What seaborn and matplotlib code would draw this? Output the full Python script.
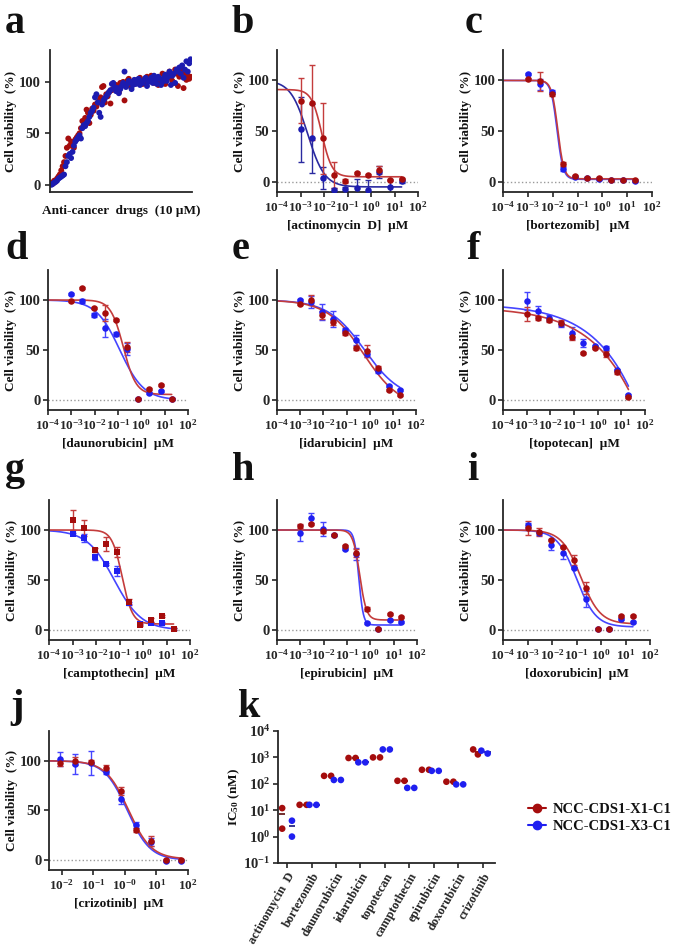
import numpy as np
import pandas as pd
import matplotlib
matplotlib.use("Agg")
import matplotlib.pyplot as plt
from matplotlib.lines import Line2D
from matplotlib.ticker import NullLocator
import seaborn as sns

# =====================================
# DATA
# =====================================

# panel a: single dose screen (10 uM), viability (%) per drug
screen_x1 = [2, 1, 4, 3, 6, 8, 10, 14, 18, 22,
             28, 36, 45, 38, 42, 40, 36, 44, 46, 48,
             50, 55, 62, 58, 65, 73, 70, 60, 68, 74,
             72, 78, 76, 80, 82, 85, 95, 96, 80, 88,
             86, 90, 79, 92, 93, 95, 97, 96, 90, 99,
             98, 100, 82, 97, 101, 103, 96, 99, 100, 98,
             100, 102, 99, 104, 101, 98, 100, 103, 105, 101,
             102, 106, 100, 99, 104, 101, 97, 103, 99, 108,
             100, 98, 103, 106, 110, 104, 101, 99, 112, 108,
             96, 105, 110, 113, 94, 108, 102, 106, 103, 105]
screen_x3 = [0, 1, 2, 3, 4, 6, 7, 8, 9, 10,
             18, 22, 28, 30, 26, 32, 38, 42, 44, 46,
             48, 45, 55, 58, 57, 60, 62, 66, 70, 72,
             75, 85, 88, 80, 70, 66, 78, 82, 84, 86,
             88, 90, 92, 98, 99, 95, 91, 94, 89, 93,
             96, 99, 110, 95, 98, 101, 100, 93, 97, 102,
             98, 101, 103, 97, 100, 99, 102, 104, 96, 100,
             101, 104, 99, 106, 102, 98, 105, 103, 97, 100,
             104, 107, 101, 105, 110, 97, 106, 108, 99, 112,
             110, 114, 108, 116, 104, 112, 120, 110, 118, 122]

# dose response: concentrations (uM)
conc = [0.001, 0.003, 0.009, 0.027, 0.082, 0.247, 0.741, 2.22, 6.67, 20.0]
conc_crizotinib = [0.009, 0.027, 0.082, 0.247, 0.741, 2.22, 6.67, 20.0, 60.0]

# viability (%) mean and SD, X1 = NCC-CDS1-X1-C1, X3 = NCC-CDS1-X3-C1
actinomycin_x1 = [80, 78, 43, 7, 1, 9, 7, 12, 2, 3]
actinomycin_x1_sd = [22, 37, 35, 13, 2, 1, 1, 4, 1, 1]
actinomycin_x3 = [52, 43, 4, -8, -7, -6, -8, 10, -5, 1]
actinomycin_x3_sd = [32, 34, 11, 2, 2, 9, 10, 6, 7, 2]

bortezomib_x1 = [101, 99, 87, 18, 6, 4, 4, 2, 2, 1.5]
bortezomib_x1_sd = [1, 9, 2, 2, 1, 1, 1, 1, 1, 1]
bortezomib_x3 = [106, 96, 89, 13, 5, 4, 3, 2, 2, 1]
bortezomib_x3_sd = [1, 5, 2, 2, 1, 1, 1, 1, 1, 1]

daunorubicin_x1 = [99, 112, 92, 87, 80, 53, 1, 11, 15, 1]
daunorubicin_x1_sd = [1, 1, 1, 8, 1, 5, 1, 1, 1, 1]
daunorubicin_x3 = [106, 99, 85, 72, 66, 51, 1, 7, 9, 1]
daunorubicin_x3_sd = [1, 2, 2, 9, 2, 6, 1, 1, 1, 1]

idarubicin_x1 = [96, 100, 85, 78, 67, 52, 49, 32, 10, 5]
idarubicin_x1_sd = [1, 5, 4, 3, 2, 2, 6, 2, 1, 1]
idarubicin_x3 = [100, 98, 88, 81, 70, 60, 46, 29, 14, 10]
idarubicin_x3_sd = [1, 6, 8, 8, 2, 5, 3, 2, 1, 1]

topotecan_x1 = [86, 82, 80, 77, 63, 47, 52, 46, 28, 3]
topotecan_x1_sd = [7, 2, 2, 3, 3, 1, 1, 3, 2, 1]
topotecan_x3 = [99, 89, 82, 76, 67, 57, 54, 52, 30, 5]
topotecan_x3_sd = [9, 5, 3, 3, 6, 4, 1, 2, 1, 1]

camptothecin_x1 = [110, 102, 80, 86, 78, 28, 5, 10, 14, 1]
camptothecin_x1_sd = [10, 8, 2, 7, 5, 3, 1, 2, 1, 1]
camptothecin_x3 = [96, 92, 73, 66, 59, 27, 6, 7, 7, 1]
camptothecin_x3_sd = [1, 4, 3, 1, 5, 1, 1, 1, 1, 1]

epirubicin_x1 = [104, 106, 99, 95, 84, 77, 21, 1, 16, 13]
epirubicin_x1_sd = [2, 1, 2, 1, 1, 4, 2, 1, 1, 1]
epirubicin_x3 = [97, 112, 101, 95, 81, 76, 7, 1, 10, 8]
epirubicin_x3_sd = [8, 5, 7, 1, 1, 6, 1, 1, 1, 1]

doxorubicin_x1 = [102, 98, 90, 83, 70, 42, 1, 1, 14, 14]
doxorubicin_x1_sd = [7, 4, 1, 1, 5, 6, 1, 1, 1, 1]
doxorubicin_x3 = [105, 97, 85, 77, 62, 31, 1, 1, 11, 8]
doxorubicin_x3_sd = [2, 2, 5, 6, 1, 8, 1, 1, 1, 1]

crizotinib_x1 = [98, 100, 99, 93, 70, 30, 19, 0, 0]
crizotinib_x1_sd = [3, 4, 2, 3, 4, 2, 5, 1, 1]
crizotinib_x3 = [102, 97, 98, 89, 62, 35, 18, -1, -1]
crizotinib_x3_sd = [7, 10, 12, 2, 6, 3, 4, 1, 1]

# fitted curve parameters: (top, bottom, IC50 uM, hill slope)
fit_actinomycin = [(91, 5, 0.008, 2.0), (100, -5, 0.002, 1.2)]
fit_bortezomib = [(100, 3, 0.016, 3.5), (100, 2.5, 0.015, 3.5)]
fit_daunorubicin = [(100, 5.5, 0.17, 1.6), (100, 0, 0.12, 0.85)]
fit_idarubicin = [(100, -8, 0.55, 0.55), (100, 0, 0.6, 0.55)]
fit_topotecan = [(93, -1000, 3.06e5, 0.26), (96, -1000, 1.86e5, 0.275)]
fit_camptothecin = [(100, 6, 0.13, 2.0), (100, 0, 0.06, 0.75)]
fit_epirubicin = [(100, 10, 0.35, 3.0), (100, 5, 0.32, 4.5)]
fit_doxorubicin = [(100, 6, 0.15, 1.1), (100, 3, 0.1, 1.1)]
fit_crizotinib = [(100, 1, 1.3, 1.2), (100, 0, 1.2, 1.2)]

# panel k: IC50 (nM), two replicates per cell line
drugs = ["actinomycin  D", "bortezomib", "daunorubicin", "idarubicin", "topotecan",
         "camptothecin", "epirubicin", "doxorubicin", "crizotinib"]
ic50_x1 = [[12, 2], [16, 16], [200, 200], [950, 950], [1000, 1000],
           [130, 130], [340, 340], [120, 120], [1300, 2000]]
ic50_x3 = [[4, 1], [16, 16], [140, 140], [650, 650], [2000, 2000],
           [70, 70], [310, 310], [95, 95], [1400, 1800]]

cell_lines = ["NCC-CDS1-X1-C1", "NCC-CDS1-X3-C1"]

# =====================================
# STYLE
# =====================================

RED = "#a50d0d"
RED_LINE = "#c43c3c"
BLUE = "#1f1ff0"
BLUE_LINE = "#4545ff"
NAVY = "#1c1cb0"
NAVY_LINE = "#2a2aa0"

sns.set_style("ticks")
plt.rcParams["font.family"] = ["Liberation Serif", "DejaVu Serif"]
plt.rcParams["font.weight"] = "bold"
plt.rcParams["axes.labelweight"] = "bold"
plt.rcParams["mathtext.fontset"] = "custom"
plt.rcParams["mathtext.rm"] = "Liberation Serif:bold"
plt.rcParams["mathtext.bf"] = "Liberation Serif:bold"
plt.rcParams["mathtext.it"] = "Liberation Serif:bold"
plt.rcParams["axes.linewidth"] = 1.3
plt.rcParams["xtick.major.width"] = 1.2
plt.rcParams["ytick.major.width"] = 1.2
plt.rcParams["xtick.major.size"] = 3.5
plt.rcParams["ytick.major.size"] = 3.5
plt.rcParams["xtick.labelsize"] = 9.5
plt.rcParams["ytick.labelsize"] = 10.5
plt.rcParams["axes.labelsize"] = 9.5
plt.rcParams["text.color"] = "#111111"
plt.rcParams["axes.labelcolor"] = "#111111"

W, H = 675, 947
fig = plt.figure(figsize=(W / 100, H / 100), dpi=100)


def add_axes(l, r, t, b):
    return fig.add_axes([l / W, 1 - b / H, (r - l) / W, (b - t) / H])


def logistic(x, top, bottom, ic50, hill):
    return bottom + (top - bottom) / (1 + (x / ic50) ** hill)


def letter(x, y, s):
    fig.text(x / W, 1 - y / H, s, fontsize=29, fontweight="bold", va="baseline")


def dose_panel(ax, x, red, red_sd, blue, blue_sd, fits, xlabel,
               marker="o", dark=False, exps=range(-4, 3), xlim=(1e-4, 1e2),
               labels=None):
    ax.set_xscale("log")
    ax.axhline(0, color="#9a9a9a", ls=":", lw=1.0, zorder=0)
    xs = np.logspace(np.log10(xlim[0]), np.log10(max(x)), 300)
    blue_c, blue_l = (NAVY, NAVY_LINE) if dark else (BLUE, BLUE_LINE)
    series = [
        (blue, blue_sd, fits[1], blue_c, blue_l),
        (red, red_sd, fits[0], RED, RED_LINE),
    ]
    for vals, sd, fit, mc, lc in series:
        curve = pd.DataFrame({"conc": xs, "viab": logistic(xs, *fit)})
        sns.lineplot(data=curve, x="conc", y="viab", color=lc, lw=1.2, ax=ax)
        ax.errorbar(x, vals, yerr=sd, fmt="none", ecolor=lc, elinewidth=1.0,
                    capsize=2, capthick=1.0)
        pts = pd.DataFrame({"conc": x, "viab": vals})
        sns.scatterplot(data=pts, x="conc", y="viab", color=mc, marker=marker,
                        s=22, linewidth=0, ax=ax, zorder=3)
    ax.set_xlim(*xlim)
    ax.set_ylim(-10, 130)
    ticks = [10.0 ** e for e in exps]
    ax.set_xticks(ticks)
    if labels is None:
        labels = [f"$10^{{{e}}}$" for e in exps]
    ax.set_xticklabels(labels)
    ax.xaxis.set_minor_locator(NullLocator())
    ax.set_yticks([0, 50, 100])
    ax.set_xlabel(xlabel, labelpad=4)
    ax.set_ylabel("Cell viability  (%)", labelpad=1)
    ax.tick_params(pad=2)
    sns.despine(ax=ax)


# =====================================
# PANEL A
# =====================================

ax = add_axes(50, 192, 50, 192)
screen = pd.DataFrame({
    "drug": list(range(len(screen_x1))) * 2,
    "viab": screen_x1 + screen_x3,
    "line": [cell_lines[0]] * len(screen_x1) + [cell_lines[1]] * len(screen_x3),
})
sns.scatterplot(data=screen, x="drug", y="viab", hue="line",
                palette=[RED, NAVY], s=18, linewidth=0, legend=False, ax=ax)
ax.set_xlim(-1, len(screen_x1))
ax.set_ylim(-7, 131)
ax.set_xticks([])
ax.set_yticks([0, 50, 100])
ax.set_xlabel("Anti-cancer  drugs  (10 \u00b5M)", labelpad=9)
ax.set_ylabel("Cell viability  (%)", labelpad=1)
sns.despine(ax=ax)
letter(5, 33, "a")

# =====================================
# DOSE RESPONSE PANELS
# =====================================

dose_panel(add_axes(277, 418, 50, 192), conc, actinomycin_x1, actinomycin_x1_sd,
           actinomycin_x3, actinomycin_x3_sd, fit_actinomycin,
           "[actinomycin  D]  \u00b5M", dark=True)
letter(232, 33, "b")

dose_panel(add_axes(503, 652, 50, 192), conc, bortezomib_x1, bortezomib_x1_sd,
           bortezomib_x3, bortezomib_x3_sd, fit_bortezomib,
           "[bortezomib]   \u00b5M")
letter(465, 33, "c")

dose_panel(add_axes(48, 188, 270, 410), conc, daunorubicin_x1, daunorubicin_x1_sd,
           daunorubicin_x3, daunorubicin_x3_sd, fit_daunorubicin,
           "[daunorubicin]  \u00b5M")
letter(5, 259, "d")

dose_panel(add_axes(277, 416, 270, 410), conc, idarubicin_x1, idarubicin_x1_sd,
           idarubicin_x3, idarubicin_x3_sd, fit_idarubicin,
           "[idarubicin]  \u00b5M")
letter(232, 259, "e")

dose_panel(add_axes(503, 645, 270, 410), conc, topotecan_x1, topotecan_x1_sd,
           topotecan_x3, topotecan_x3_sd, fit_topotecan,
           "[topotecan]  \u00b5M")
letter(467, 259, "f")

dose_panel(add_axes(49, 190, 500, 640), conc, camptothecin_x1, camptothecin_x1_sd,
           camptothecin_x3, camptothecin_x3_sd, fit_camptothecin,
           "[camptothecin]  \u00b5M", marker="s")
letter(5, 480, "g")

dose_panel(add_axes(277, 417, 500, 640), conc, epirubicin_x1, epirubicin_x1_sd,
           epirubicin_x3, epirubicin_x3_sd, fit_epirubicin,
           "[epirubicin]  \u00b5M")
letter(232, 480, "h")

dose_panel(add_axes(503, 650, 500, 640), conc, doxorubicin_x1, doxorubicin_x1_sd,
           doxorubicin_x3, doxorubicin_x3_sd, fit_doxorubicin,
           "[doxorubicin]  \u00b5M")
letter(467, 480, "i")

dose_panel(add_axes(49, 188, 731, 870), conc_crizotinib, crizotinib_x1, crizotinib_x1_sd,
           crizotinib_x3, crizotinib_x3_sd, fit_crizotinib,
           "[crizotinib]  \u00b5M", exps=range(-2, 3), xlim=(10 ** -2.4, 1e2),
           labels=["$10^{-2}$", "$10^{-1}$", "$10^{-0}$", "$10^{1}$", "$10^{2}$"])
letter(10, 717, "j")

# =====================================
# PANEL K
# =====================================

ax = add_axes(278, 495, 731, 863)
rows = []
for d, a, b in zip(drugs, ic50_x1, ic50_x3):
    for v in a:
        rows.append((d, cell_lines[0], v))
    for v in b:
        rows.append((d, cell_lines[1], v))
ic = pd.DataFrame(rows, columns=["drug", "line", "ic50"])

sns.swarmplot(data=ic, x="drug", y="ic50", hue="line", order=drugs,
              hue_order=cell_lines, dodge=True, palette=[RED, BLUE],
              size=4.8, linewidth=0, log_scale=True, legend=False, ax=ax)

means = ic.groupby(["drug", "line"], sort=False)["ic50"].mean()
for i, d in enumerate(drugs):
    for off, line, col in [(-0.2, cell_lines[0], "#5a0a0a"), (0.2, cell_lines[1], "#14147a")]:
        ax.hlines(means[(d, line)], i + off - 0.13, i + off + 0.13,
                  color=col, lw=1.2, zorder=1)

ax.set_ylim(0.1, 1e4)
ax.set_xlim(-0.37, len(drugs) - 0.5)
ax.set_yticks([10.0 ** e for e in range(-1, 5)])
ax.set_yticklabels([f"$10^{{{e}}}$" for e in range(-1, 5)])
ax.yaxis.set_minor_locator(NullLocator())
ax.set_xticks(range(len(drugs)))
ax.set_xticklabels(drugs, rotation=60, ha="right", rotation_mode="anchor",
                   fontsize=9)
ax.set_xlabel("")
ax.set_ylabel("IC$_{50}$ (nM)", labelpad=1)
ax.tick_params(pad=2)
sns.despine(ax=ax)
letter(238, 717, "k")

handles = [
    Line2D([0], [0], color=RED, marker="o", markersize=6, lw=1.5),
    Line2D([0], [0], color=BLUE, marker="o", markersize=6, lw=1.5),
]
fig.legend(handles, cell_lines, loc="center left",
           bbox_to_anchor=(515 / W, 1 - 818 / H), frameon=False,
           prop={"family": "Liberation Serif", "weight": "bold", "size": 10.5},
           handlelength=1.2, handletextpad=0.5, labelspacing=0.3)

fig.savefig("out.png", dpi=100)
